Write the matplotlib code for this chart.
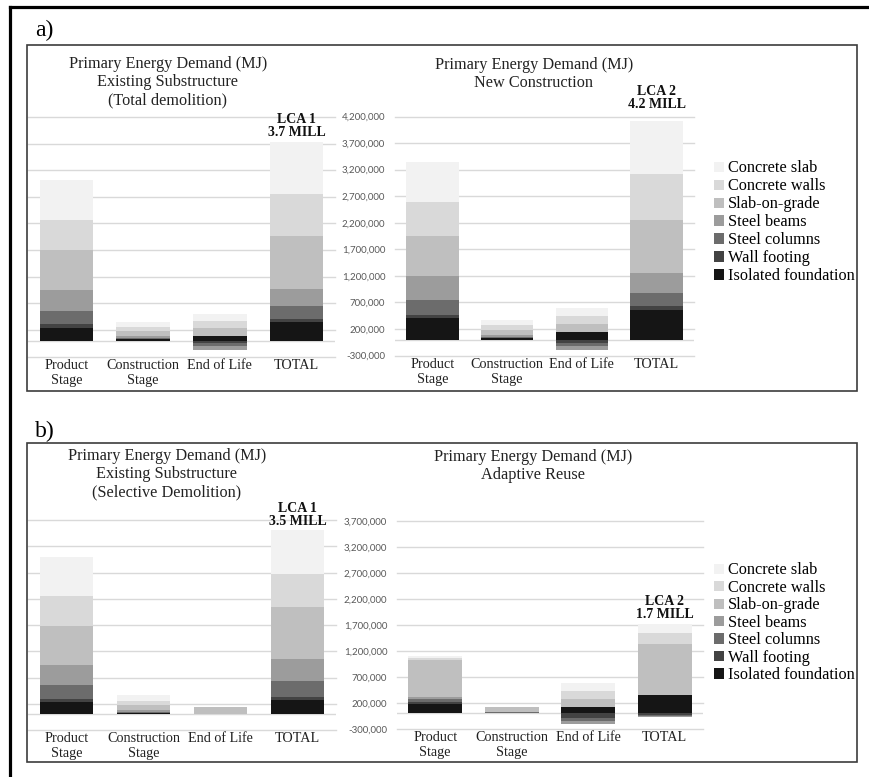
import matplotlib
matplotlib.use("Agg")
import matplotlib.pyplot as plt
import numpy as np
from matplotlib.patches import Rectangle, Patch
from matplotlib.lines import Line2D

# ---------------- data ----------------
components = ["Isolated foundation", "Wall footing", "Steel columns", "Steel beams",
              "Slab-on-grade", "Concrete walls", "Concrete slab"]
stages = ["Product\nStage", "Construction\nStage", "End of Life", "TOTAL"]
colors = ["#151515", "#434343", "#6c6c6c", "#9c9c9c", "#bfbfbf", "#d9d9d9", "#f2f2f2"]

# thousand MJ; rows follow `components`, columns follow `stages`
total_demolition = [
    [232, 20, 94, 345],
    [70, 5, -50, 63],
    [250, 15, -45, 238],
    [395, 40, -75, 326],
    [745, 95, 138, 990],
    [577, 80, 130, 783],
    [740, 100, 145, 984],
]
new_construction = [
    [413, 25, 138, 563],
    [44, 10, -70, 69],
    [294, 15, -55, 244],
    [444, 30, -65, 376],
    [764, 105, 150, 1008],
    [638, 85, 150, 858],
    [751, 105, 156, 1002],
]
selective_demolition = [
    [240, 25, 0, 272],
    [51, 8, 0, 63],
    [266, 17, 0, 297],
    [380, 32, 0, 411],
    [747, 95, 146, 1000],
    [576, 76, 0, 633],
    [734, 108, 0, 842],
]
adaptive_reuse = [
    [178, 10, 128, 345],
    [45, 3, -90, -30],
    [45, 5, -55, -15],
    [50, 10, -60, -30],
    [704, 100, 147, 998],
    [51, 0, 160, 211],
    [26, 0, 154, 160],
]

titles = [
    "Primary Energy Demand (MJ)\nExisting Substructure\n(Total demolition)",
    "Primary Energy Demand (MJ)\nNew Construction",
    "Primary Energy Demand (MJ)\nExisting Substructure\n(Selective Demolition)",
    "Primary Energy Demand (MJ)\nAdaptive Reuse",
]
lca_labels = ["LCA 1\n3.7 MILL", "LCA 2\n4.2 MILL", "LCA 1\n3.5 MILL", "LCA 2\n1.7 MILL"]
y_min = -300000
y_max_top = 4200000
y_max_bottom = 3700000
y_step = 500000

# ---------------- figure ----------------
W, H = 870, 777
fig = plt.figure(figsize=(W / 100, H / 100), dpi=100)
SERIF = ["Liberation Serif", "DejaVu Serif"]


def fx(px):
    return px / W


def fy(py):
    return 1 - py / H


def rect(l, t, r, b):
    return [fx(l), fy(b), (r - l) / W, (b - t) / H]


def draw(ax, data, ymax, show_yticks, label, lab_off):
    vals = np.array(data, dtype=float) * 1000
    x = np.arange(len(stages))
    pos = np.zeros(len(stages))
    neg = np.zeros(len(stages))
    for i, row in enumerate(vals):
        bottom = np.where(row >= 0, pos, neg)
        ax.bar(x, row, width=0.7, bottom=bottom, color=colors[i],
               linewidth=0, zorder=3, label=components[i])
        pos += np.where(row >= 0, row, 0)
        neg += np.where(row < 0, row, 0)
    ax.set_xlim(-0.5, len(stages) - 0.5)
    ax.set_ylim(y_min, ymax)
    ticks = np.arange(y_min, ymax + 1, y_step)
    for t in ticks:
        ax.axhline(t, color="#d9d9d9", lw=1.0, zorder=1, clip_on=False)
    ax.axhline(0, color="#d9d9d9", lw=1.0, zorder=1)
    for s in ax.spines.values():
        s.set_visible(False)
    ax.set_yticks(ticks)
    if show_yticks:
        ax.set_yticklabels([f"{int(t):,}" for t in ticks], family="Lato",
                           fontsize=7, color="#595959")
    else:
        ax.set_yticklabels([])
    ax.tick_params(axis="y", length=0, pad=7)
    ax.set_xticks(x)
    ax.set_xticklabels(stages, family=SERIF, fontsize=10.2, linespacing=1.2,
                       color="#222222")
    ax.tick_params(axis="x", length=0, pad=1.5)
    ax.patch.set_visible(False)
    ax.annotate(label, xy=(x[-1], pos[-1]), xytext=(0, lab_off),
                textcoords="offset points", ha="center", va="bottom",
                family=SERIF, fontweight="bold", fontsize=10, linespacing=1.0,
                color="#111111")


ax1 = fig.add_axes(rect(28, 117, 335, 356.5))
ax2 = fig.add_axes(rect(395, 116.5, 694, 355.5))
ax3 = fig.add_axes(rect(28, 520, 336, 730))
ax4 = fig.add_axes(rect(397, 521, 703, 729))

draw(ax1, total_demolition, y_max_top, False, lca_labels[0], 2)
draw(ax2, new_construction, y_max_top, True, lca_labels[1], 7)
draw(ax3, selective_demolition, y_max_bottom, False, lca_labels[2], 1)
draw(ax4, adaptive_reuse, y_max_bottom, True, lca_labels[3], 2)

# titles
title_pos = [(168, 82), (534, 74), (167, 474), (533, 466)]
for t, (px, py) in zip(titles, title_pos):
    fig.text(fx(px), fy(py), t, ha="center", va="center", family=SERIF,
             fontsize=11.7, linespacing=1.17, color="#222222")

# legends
legend_handles = [Patch(facecolor=c, edgecolor="none") for c in colors][::-1]
legend_labels = components[::-1]
for top, spacing in ((160.5, 0.12), (562.5, 0.09)):
    fig.legend(legend_handles, legend_labels, loc="upper left",
               bbox_to_anchor=(fx(714), fy(top)), frameon=False,
               prop={"family": SERIF, "size": 11.7}, handlelength=0.6,
               handleheight=0.6, handletextpad=0.25, labelspacing=spacing,
               borderpad=0, borderaxespad=0)

# panel boxes
for (l, t, r, b) in [(27, 45, 857, 391), (27, 443, 857, 762)]:
    fig.patches.append(Rectangle((fx(l), fy(b)), (r - l) / W, (b - t) / H,
                                 transform=fig.transFigure, fill=False,
                                 edgecolor="#3c3c3c", lw=1.2))

# outer frame (top and left)
fig.lines.append(Line2D([fx(10), fx(870)], [fy(7), fy(7)], transform=fig.transFigure,
                        color="black", lw=2.3))
fig.lines.append(Line2D([fx(10), fx(10)], [fy(7), fy(777)], transform=fig.transFigure,
                        color="black", lw=2.3))

# panel letters
fig.text(fx(35), fy(30), "a)", family=SERIF, fontsize=17, ha="left", va="center")
fig.text(fx(35), fy(431), "b)", family=SERIF, fontsize=17, ha="left", va="center")

fig.savefig("out.png", dpi=100)
